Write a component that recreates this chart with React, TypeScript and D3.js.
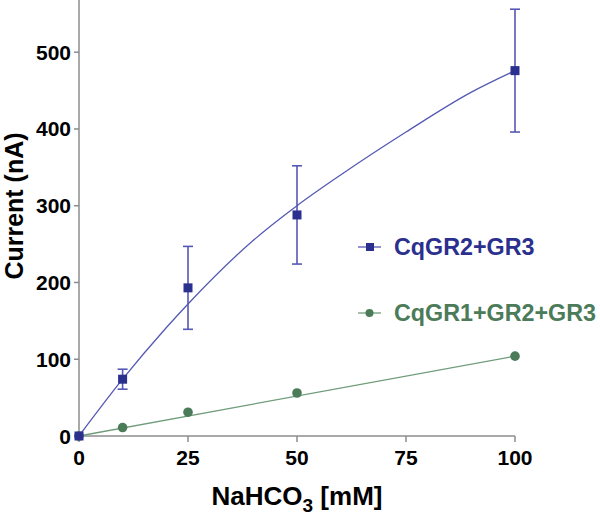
import React from "react";
import * as d3 from "d3";

const xTicks = [0, 25, 50, 75, 100];
const yTicks = [0, 100, 200, 300, 400, 500];

const blueX = [0, 10, 25, 50, 100];
const blueY = [0, 74, 193, 288, 476];
const blueErr = [0, 13, 54, 64, 80];

const greenX = [0, 10, 25, 50, 100];
const greenY = [0, 11, 31, 56, 104];

// fitted curve, values
const fitX = [0, 10, 20, 25, 40, 50, 60, 75, 90, 100];
const fitY = [0, 74, 141, 172, 255, 300, 340, 396, 448, 476];

const greenFitX = [0, 100];
const greenFitY = [0, 104];

const seriesNames = ["CqGR2+GR3", "CqGR1+GR2+GR3"];

const BLUE = "#2b2f8e";
const BLUE_LINE = "#5559b3";
const GREEN = "#4b7b58";
const GREEN_LINE = "#6f9c7a";
const AXIS = "#8c8c8c";
const FONT = "'Liberation Sans', Arial, Helvetica, sans-serif";

export default function App() {
  const W = 600, H = 518;
  const x = d3.scaleLinear().domain([0, 100]).range([79, 515]);
  const y = d3.scaleLinear().domain([0, 568]).range([436, 0]);

  const fitLine = d3
    .line<number>()
    .x((_, i) => x(fitX[i]))
    .y((d) => y(d))
    .curve(d3.curveMonotoneX);
  const greenLine = d3
    .line<number>()
    .x((_, i) => x(greenFitX[i]))
    .y((d) => y(d));

  return (
    <svg
      width={W}
      height={H}
      style={{ position: "absolute", left: 0, top: 0, background: "#fff" }}
      fontFamily={FONT}
    >
      {/* axes */}
      <line x1={x(0)} x2={x(0)} y1={y(0)} y2={0} stroke={AXIS} strokeWidth={1.5} />
      <line x1={x(0)} x2={x(100)} y1={y(0)} y2={y(0)} stroke={AXIS} strokeWidth={1.5} />
      {yTicks.map((t) => (
        <g key={"y" + t}>
          <line x1={x(0) - 5} x2={x(0)} y1={y(t)} y2={y(t)} stroke={AXIS} strokeWidth={1.5} />
          <text
            x={71}
            y={y(t) + 7.5}
            textAnchor="end"
            fontSize={21}
            fontWeight="bold"
            fill="#000"
          >
            {t}
          </text>
        </g>
      ))}
      {xTicks.map((t) => (
        <g key={"x" + t}>
          <line x1={x(t)} x2={x(t)} y1={y(0)} y2={y(0) + 6} stroke={AXIS} strokeWidth={1.5} />
          <text x={x(t)} y={465} textAnchor="middle" fontSize={21} fontWeight="bold" fill="#000">
            {t}
          </text>
        </g>
      ))}

      {/* axis titles */}
      <text x={297} y={505} textAnchor="middle" fontSize={26} fontWeight="bold" fill="#000">
        NaHCO
        <tspan fontSize={19} dy={7}>3</tspan>
        <tspan dy={-7}> [mM]</tspan>
      </text>
      <text
        transform={`translate(23,206) rotate(-90)`}
        textAnchor="middle"
        fontSize={25}
        fontWeight="bold"
        fill="#000"
      >
        Current (nA)
      </text>

      {/* green series */}
      <path d={greenLine(greenFitY) || ""} fill="none" stroke={GREEN_LINE} strokeWidth={1.3} />
      {greenX.map((v, i) => (
        <circle key={"g" + i} cx={x(v)} cy={y(greenY[i])} r={4.8} fill={GREEN} />
      ))}

      {/* blue series */}
      <path d={fitLine(fitY) || ""} fill="none" stroke={BLUE_LINE} strokeWidth={1.3} />
      {blueX.map((v, i) =>
        blueErr[i] > 0 ? (
          <g key={"e" + i} stroke={BLUE_LINE} strokeWidth={1.6}>
            <line x1={x(v)} x2={x(v)} y1={y(blueY[i] - blueErr[i])} y2={y(blueY[i] + blueErr[i])} />
            <line x1={x(v) - 5} x2={x(v) + 5} y1={y(blueY[i] - blueErr[i])} y2={y(blueY[i] - blueErr[i])} />
            <line x1={x(v) - 5} x2={x(v) + 5} y1={y(blueY[i] + blueErr[i])} y2={y(blueY[i] + blueErr[i])} />
          </g>
        ) : null
      )}
      {blueX.map((v, i) => (
        <rect key={"b" + i} x={x(v) - 4.5} y={y(blueY[i]) - 4.5} width={9} height={9} fill={BLUE} />
      ))}

      {/* legend */}
      <line x1={358} x2={381} y1={247} y2={247} stroke={BLUE_LINE} strokeWidth={1.3} />
      <rect x={366} y={243} width={8} height={8} fill={BLUE} />
      <text x={394} y={255} fontSize={23.3} fontWeight="bold" fill={BLUE}>
        {seriesNames[0]}
      </text>
      <line x1={358} x2={381} y1={313} y2={313} stroke={GREEN_LINE} strokeWidth={1.3} />
      <circle cx={369.5} cy={313} r={4} fill={GREEN} />
      <text x={394} y={321} fontSize={23.3} fontWeight="bold" fill={GREEN}>
        {seriesNames[1]}
      </text>
    </svg>
  );
}
